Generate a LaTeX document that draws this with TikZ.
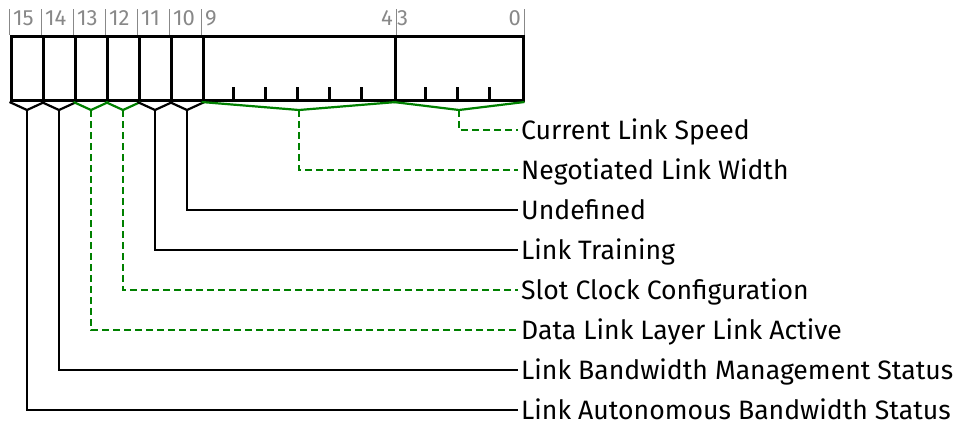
\documentclass[tikz,border=0pt]{standalone}
\usepackage{fontspec}
\setmainfont{Fira Sans}
\usetikzlibrary{positioning,calc}
\definecolor{fieldgreen}{RGB}{0,128,0}
\definecolor{bitgray}{RGB}{136,136,136}

\begin{document}
\begin{tikzpicture}[x=1pt,y=-1pt,
  field/.style={draw,line width=3pt,minimum height=64pt,inner sep=0pt,anchor=north west},
  bitnum/.style={text=bitgray,font=\fontsize{22}{22}\selectfont,inner sep=0pt},
  bitmark/.style={draw=bitgray,line width=1.8pt},
  tickmark/.style={line width=2.2pt},
  brace/.style={line width=2.2pt},
  lbl/.style={anchor=west,font=\fontsize{26.6}{28}\selectfont,inner xsep=3pt,inner ysep=0pt,
    text height=18.3pt,text depth=0pt},
  solidlink/.style={line width=2.2pt},
  dashlink/.style={line width=2.2pt,draw=fieldgreen,dash pattern=on 7pt off 4pt}]
\useasboundingbox (0,0) rectangle (965,423);

% the register fields
\foreach \b [count=\i from 0] in {15,...,10}
  \node[field,minimum width=32pt] (f\b) at (9.5+32*\i,35) {};
\node[field,minimum width=192pt] (f9) at (201.5,35) {};
\node[field,minimum width=128pt] (f3) at (393.5,35) {};

% bit ticks inside the wide fields
\foreach \k in {1,...,5}
  \draw[tickmark] ($(f9.south west)+(32*\k,0)$) -- ++(0,-15);
\foreach \k in {1,...,3}
  \draw[tickmark] ($(f3.south west)+(32*\k,0)$) -- ++(0,-15);

% bit numbers
\foreach \b in {15,...,9} {
  \draw[bitmark] (f\b.north west) -- ++(0,-26);
  \node[bitnum,anchor=base west] at ($(f\b.north west)+(3.5,-10)$) {\b};
}
\draw[bitmark] (f9.north east) -- ++(0,-26);
\draw[bitmark] (f3.north east) -- ++(0,-26);
\node[bitnum,anchor=base east] at ($(f9.north east)+(-3.5,-10)$) {4};
\node[bitnum,anchor=base west] at ($(f3.north west)+(3.5,-10)$) {3};
\node[bitnum,anchor=base east] at ($(f3.north east)+(-3.5,-10)$) {0};

% braces under the fields
\foreach \b in {15,...,9,3}
  \coordinate (a\b) at ($(f\b.south)+(0,8)$);
\foreach \b/\c in {15/black,14/black,13/fieldgreen,12/fieldgreen,11/black,10/black,9/fieldgreen,3/fieldgreen}
  \draw[brace,\c] (f\b.south west) -- (a\b) -- (f\b.south east);

% field names
\node[lbl] (lspeed) at (518,130) {Current Link Speed};
\node[lbl] (lwidth) at (518,170) {Negotiated Link Width};
\node[lbl] (lundef) at (518,210) {Undefined};
\node[lbl] (ltrain) at (518,250) {Link Training};
\node[lbl] (lslot) at (518,290) {Slot Clock Configuration};
\node[lbl] (ldll) at (518,330) {Data Link Layer Link Active};
\node[lbl] (lbwm) at (518,370) {Link Bandwidth Management Status};
\node[lbl] (lauto) at (518,410) {Link Autonomous Bandwidth Status};

% connectors
\draw[dashlink] (a3) |- (lspeed.west);
\draw[dashlink] (a9) |- (lwidth.west);
\draw[solidlink] (a10) |- (lundef.west);
\draw[solidlink] (a11) |- (ltrain.west);
\draw[dashlink] (a12) |- (lslot.west);
\draw[dashlink] (a13) |- (ldll.west);
\draw[solidlink] (a14) |- (lbwm.west);
\draw[solidlink] (a15) |- (lauto.west);
\end{tikzpicture}
\end{document}
